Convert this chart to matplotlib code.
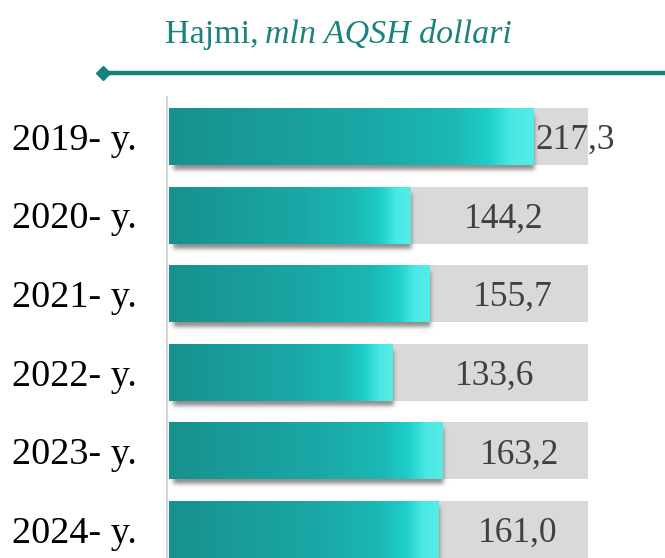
import numpy as np
import matplotlib
matplotlib.use("Agg")
import matplotlib.pyplot as plt
from matplotlib.colors import LinearSegmentedColormap
from matplotlib.patches import Rectangle
from matplotlib.transforms import blended_transform_factory

years = ["2019- y.", "2020- y.", "2021- y.", "2022- y.", "2023- y.", "2024- y."]
values = [217.3, 144.2, 155.7, 133.6, 163.2, 161.0]
labels = ["217,3", "144,2", "155,7", "133,6", "163,2", "161,0"]
full_scale = 250

W, H = 665, 558
fig = plt.figure(figsize=(W / 100, H / 100), dpi=100)
fig.patch.set_facecolor("white")

# bar area: x from 169px to 588px, y from 97px down to bottom edge
ax = fig.add_axes([169 / W, 0, (588 - 169) / W, (H - 97) / H])
ax.axis("off")

px_x = full_scale / (588 - 169)      # data units per pixel, horizontal
px_y = 5.866 / (H - 97)              # data units per pixel, vertical

teal = LinearSegmentedColormap.from_list(
    "teal_bar",
    [(0.0, "#17918f"), (0.55, "#1aa8a6"), (0.78, "#1bb8b4"),
     (0.88, "#1ed0cb"), (0.94, "#4ae8e3"), (1.0, "#55ece7")])
grad = np.linspace(0, 1, 256).reshape(1, -1)
bar_h = 0.725
font = "Liberation Serif"


def soft_box(t, a, b, s):
    return 0.5 * (np.tanh((t - a) / s) - np.tanh((t - b) / s))


for i, (v, lab) in enumerate(zip(values, labels)):
    top, bot = i - bar_h / 2, i + bar_h / 2
    # grey track
    ax.add_patch(Rectangle((0, top), full_scale, bar_h, color="#d9d9d9", lw=0, zorder=1))

    # blurred drop shadow below the coloured bar
    x_end = v + 8 * px_x
    y_end = bot + 14 * px_y
    xs = np.linspace(0, x_end, 300)
    ys = np.linspace(top, y_end, 80)
    ax_x = soft_box(xs, 4 * px_x, v + 1 * px_x, 2.5 * px_x)
    ax_y = soft_box(ys, top + 6 * px_y, bot + 5 * px_y, 2.5 * px_y)
    shadow = np.zeros((len(ys), len(xs), 4))
    shadow[..., :3] = 0.25
    shadow[..., 3] = 0.6 * np.outer(ax_y, ax_x)
    ax.imshow(shadow, aspect="auto", extent=(0, x_end, y_end, top),
              interpolation="bilinear", zorder=2)

    ax.imshow(grad, cmap=teal, aspect="auto", extent=(0, v, bot, top),
              interpolation="bilinear", zorder=3)

    # value label
    if full_scale - v < 50:
        ax.text(v + 1.5, i, lab, ha="left", va="center_baseline", fontsize=25.5,
                family=font, color="#404040", zorder=5, clip_on=False)
    else:
        ax.text((v + full_scale) / 2 + 2.5, i, lab, ha="center", va="center_baseline",
                fontsize=25.5, family=font, color="#404040", zorder=5)

ax.set_xlim(0, full_scale)
ax.set_ylim(5.363, -0.503)

# year labels on the left
tr = blended_transform_factory(fig.transFigure, ax.transData)
for i, y in enumerate(years):
    ax.text(12 / W, i, y, transform=tr, ha="left", va="center_baseline",
            fontsize=27.5, family=font, color="black", clip_on=False)

# thin vertical axis line
fig.add_artist(plt.Line2D([167 / W, 167 / W], [0, (H - 97) / H],
                          color="#d6d6d6", lw=1.5, transform=fig.transFigure))

# title
teal_txt = "#1b827d"
t1 = fig.text(165 / W, 1 - 43 / H, "Hajmi,", fontsize=24.5, family=font,
              color=teal_txt, ha="left", va="baseline")
fig.canvas.draw()
bb = t1.get_window_extent()
fig.text(bb.x1 / W + 6 / W, 1 - 43 / H, "mln AQSH dollari", fontsize=24.5, family=font,
         style="italic", color=teal_txt, ha="left", va="baseline")

# decorative rule with diamond end
fig.add_artist(plt.Line2D([103 / W, 1], [1 - 73 / H, 1 - 73 / H], color="#17817d",
                          lw=3.2, transform=fig.transFigure, solid_capstyle="butt"))
fig.add_artist(plt.Line2D([103 / W], [1 - 73 / H], marker="D", markersize=7.5,
                          color="#17817d", transform=fig.transFigure))

fig.savefig("out.png", dpi=100)
